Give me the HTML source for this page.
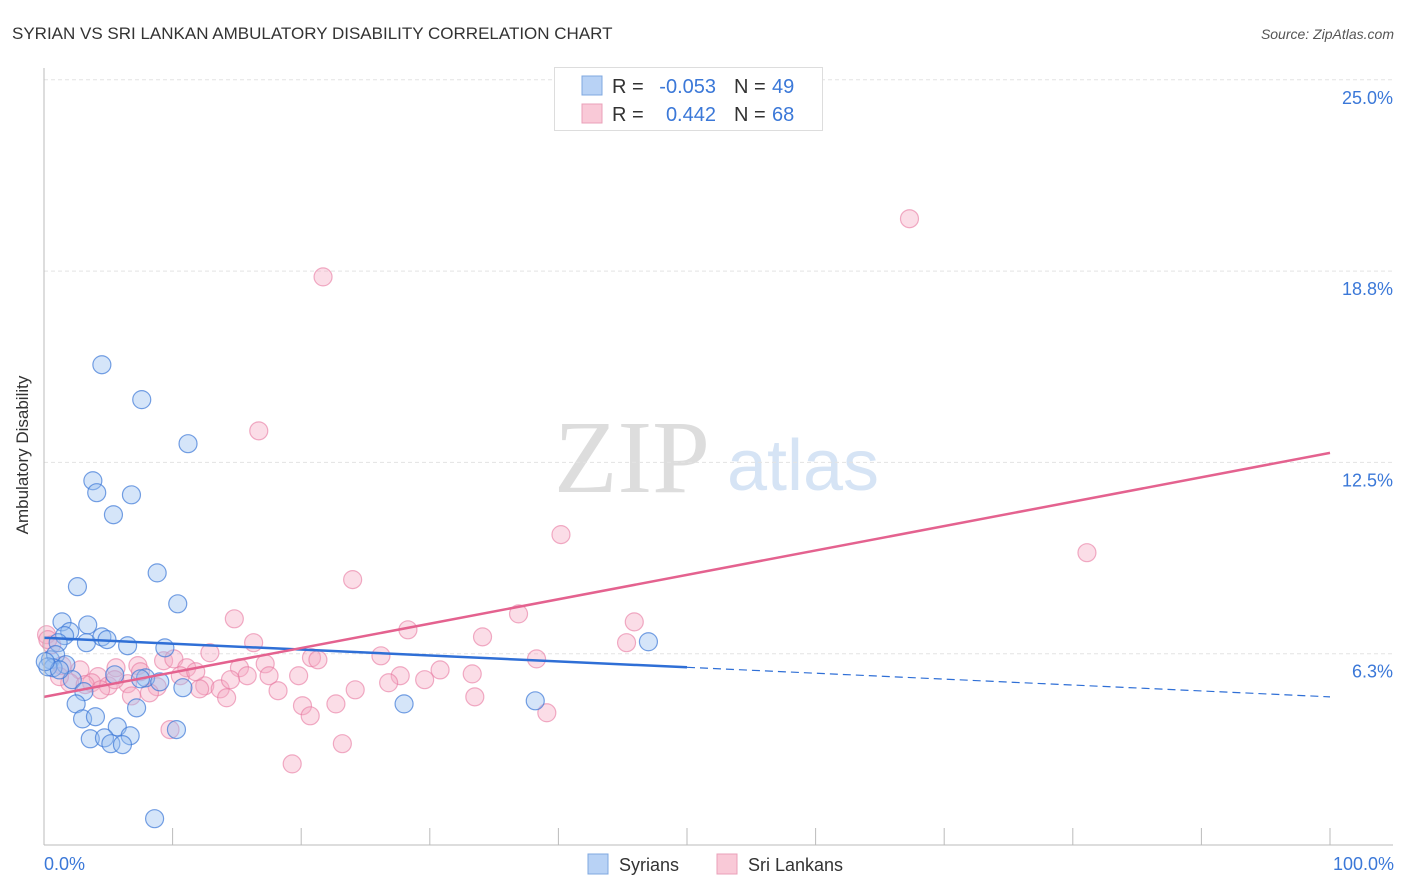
<!DOCTYPE html>
<html><head><meta charset="utf-8"><style>
body{margin:0;background:#fff;font-family:"Liberation Sans",sans-serif;}
#wrap{position:relative;width:1406px;height:892px;overflow:hidden}
</style></head><body><div id="wrap">
<svg id="svg" width="1406" height="892" xmlns="http://www.w3.org/2000/svg">
<text x="12" y="39" font-size="17" fill="#333">SYRIAN VS SRI LANKAN AMBULATORY DISABILITY CORRELATION CHART</text>
<text x="1394" y="39" font-size="14" fill="#555" font-style="italic" text-anchor="end">Source: ZipAtlas.com</text>
<text x="632" y="492" font-size="104" fill="#ddd" font-family="Liberation Serif,serif" text-anchor="middle">ZIP</text>
<text x="803" y="490" font-size="72" fill="#d6e4f5" text-anchor="middle">atlas</text>
<g id="grid"></g><g id="pts"></g><g id="lines"></g>
<line x1="44" y1="68" x2="44" y2="845" stroke="#bbb"/>
<line x1="44" y1="845" x2="1393" y2="845" stroke="#bbb"/>
<text x="28" y="455" font-size="17" fill="#333" transform="rotate(-90 28 455)" text-anchor="middle">Ambulatory Disability</text>
<text x="44" y="870" font-size="18" fill="#3b78d8">0.0%</text>
<text x="1394" y="870" font-size="18" fill="#3b78d8" text-anchor="end">100.0%</text>
<g>
<rect x="554.5" y="67.5" width="268" height="63" fill="#fff" stroke="#ddd"/>
<rect x="582" y="76" width="20" height="19" fill="#b8d2f5" stroke="#7fa8e0"/>
<rect x="582" y="104" width="20" height="19" fill="#f9c9d7" stroke="#eaa0b8"/>
<text x="612" y="93" font-size="20" fill="#333">R =</text>
<text x="716" y="93" font-size="20" fill="#3b78d8" text-anchor="end">-0.053</text>
<text x="734" y="93" font-size="20" fill="#333">N =</text>
<text x="772" y="93" font-size="20" fill="#3b78d8">49</text>
<text x="612" y="121" font-size="20" fill="#333">R =</text>
<text x="716" y="121" font-size="20" fill="#3b78d8" text-anchor="end">0.442</text>
<text x="734" y="121" font-size="20" fill="#333">N =</text>
<text x="772" y="121" font-size="20" fill="#3b78d8">68</text>
</g>
<g>
<rect x="588" y="854" width="20" height="20" fill="#b8d2f5" stroke="#7fa8e0"/>
<text x="619" y="871" font-size="18" fill="#333">Syrians</text>
<rect x="717" y="854" width="20" height="20" fill="#f9c9d7" stroke="#eaa0b8"/>
<text x="748" y="871" font-size="18" fill="#333">Sri Lankans</text>
</g>
</svg></div>
<script>
const yTicks=[6.25,12.5,18.75,25];
const yTickLabels=["6.3%","12.5%","18.8%","25.0%"];
const blueX=[4.5,7.6,11.2,3.8,4.1,6.8,5.4,2.6,8.8,10.4,1.4,3.4,2.0,1.6,1.1,3.3,4.5,4.9,6.5,9.4,0.5,0.9,1.7,0.7,0.3,2.2,5.5,7.9,9.0,10.8,3.1,2.5,7.2,3.0,4.0,5.7,3.6,4.7,6.7,5.2,6.1,10.3,8.6,28.0,38.2,47.0,1.2,0.1,7.5];
const blueY=[15.69,14.55,13.11,11.9,11.51,11.44,10.79,8.44,8.89,7.88,7.29,7.19,6.97,6.84,6.61,6.61,6.8,6.71,6.51,6.44,6.05,6.22,5.89,5.79,5.82,5.4,5.56,5.46,5.33,5.14,5.01,4.61,4.48,4.12,4.19,3.86,3.47,3.5,3.57,3.31,3.28,3.77,0.86,4.61,4.71,6.64,5.72,5.99,5.43];
const pinkX=[21.7,67.3,16.7,40.2,81.1,24.0,14.8,36.9,45.9,28.3,34.1,16.3,45.3,0.2,12.9,26.2,38.3,9.3,10.1,20.8,21.3,17.2,15.2,11.1,7.3,5.6,2.8,1.4,30.8,33.3,27.7,19.8,17.5,15.8,10.6,4.2,3.7,2.0,1.2,6.5,8.8,12.5,12.1,13.7,26.8,8.2,5.0,18.2,6.8,14.2,33.5,20.1,22.7,20.7,39.1,9.8,23.2,19.3,5.5,3.2,7.5,0.6,0.3,4.4,14.5,24.2,11.8,29.6];
const pinkY=[18.56,20.46,13.53,10.14,9.55,8.67,7.39,7.55,7.29,7.03,6.8,6.61,6.61,6.87,6.28,6.18,6.08,6.02,6.08,6.12,6.05,5.92,5.79,5.79,5.86,5.79,5.72,5.86,5.72,5.59,5.53,5.53,5.53,5.53,5.53,5.5,5.3,5.3,5.5,5.27,5.17,5.2,5.1,5.1,5.3,4.97,5.2,5.04,4.87,4.81,4.84,4.55,4.61,4.22,4.32,3.77,3.31,2.65,5.4,5.24,5.66,6.54,6.71,5.07,5.4,5.07,5.66,5.4];
const blueTrend=[6.77,4.84];
const pinkTrend=[4.84,12.81];
const NS="http://www.w3.org/2000/svg";
const X=v=>44+v*12.86, Y=v=>845-v*30.61;
function mk(t,a,p){const e=document.createElementNS(NS,t);for(const k in a)e.setAttribute(k,a[k]);p.appendChild(e);return e;}
const grid=document.getElementById('grid');
yTicks.forEach((t,i)=>{
 const l=mk('line',{x1:44,x2:1393,y1:Y(t),y2:Y(t),stroke:'#e3e3e3','stroke-dasharray':'4,3'},grid);
 
 
 const tx=mk('text',{x:1393,y:Y(t)+24,'font-size':18,fill:'#3b78d8','text-anchor':'end'},grid);
 tx.textContent=yTickLabels[i];
 
 
});
for(let i=1;i<=10;i++){
 const l=mk('line',{x1:X(i*10),x2:X(i*10),y1:828,y2:845,stroke:'#bbb'},grid);
 
 
}
const pts=document.getElementById('pts');
pinkX.forEach((x,i)=>{
 const c=mk('circle',{cx:X(x),cy:Y(pinkY[i]),r:9,fill:'rgba(246,170,195,0.4)',stroke:'rgba(232,120,160,0.6)','stroke-width':1.2},pts);
 
 
});
blueX.forEach((x,i)=>{
 const c=mk('circle',{cx:X(x),cy:Y(blueY[i]),r:9,fill:'rgba(150,190,240,0.4)',stroke:'rgba(60,120,215,0.7)','stroke-width':1.2},pts);
 
 
});
const lines=document.getElementById('lines');
const bAt=v=>blueTrend[0]+(blueTrend[1]-blueTrend[0])*v/100;
let l1=mk('line',{x1:X(0),y1:Y(bAt(0)),x2:X(50),y2:Y(bAt(50)),stroke:'#2f6fd6','stroke-width':2.5},lines);


let l2=mk('line',{x1:X(50),y1:Y(bAt(50)),x2:X(100),y2:Y(bAt(100)),stroke:'#2f6fd6','stroke-width':1.2,'stroke-dasharray':'8,5'},lines);


let l3=mk('line',{x1:X(0),y1:Y(pinkTrend[0]),x2:X(100),y2:Y(pinkTrend[1]),stroke:'#e4628f','stroke-width':2.5},lines);


</script></body></html>
